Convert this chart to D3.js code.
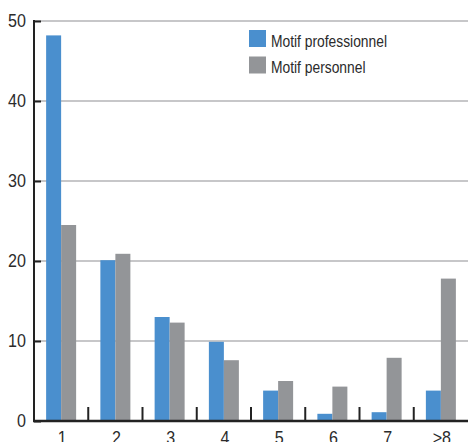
<!DOCTYPE html>
<html>
<head>
<meta charset="utf-8">
<script src="https://cdn.jsdelivr.net/npm/d3@7/dist/d3.min.js"></script>
<style>
  html, body { margin: 0; padding: 0; background: #fff; }
  svg { display: block; }
  text { font-family: "Liberation Sans", Arial, sans-serif; fill: #2b2b2b; }
</style>
</head>
<body>
<svg id="chart" width="468" height="442"></svg>
<script>
// Number of trips per category, share (%) by motive
const categories = ["1", "2", "3", "4", "5", "6", "7", ">8"];
const professionnel = [48.2, 20.1, 13.0, 9.9, 3.8, 0.9, 1.1, 3.8];
const personnel = [24.5, 20.9, 12.3, 7.6, 5.0, 4.3, 7.9, 17.8];
const seriesNames = ["Motif professionnel", "Motif personnel"];
const seriesColors = ["#4a8fce", "#939598"];
const yTicks = [0, 10, 20, 30, 40, 50];

const svg = d3.select("#chart");
const plotLeft = 34, plotRight = 468, plotTop = 21, plotBottom = 421;

const x = d3.scaleBand().domain(categories).range([plotLeft, plotRight]);
const y = d3.scaleLinear().domain([0, 50]).range([plotBottom, plotTop]);
const barW = 15;

// condensed look: squeeze text horizontally around its anchor point
const narrow = (sel, px, py, sx) =>
  sel.attr("transform", (d, i) => `translate(${px(d, i)},${py(d, i)}) scale(${sx},1)`);

// horizontal grid
svg.append("g").selectAll("line").data(yTicks.filter(d => d > 0)).join("line")
  .attr("x1", plotLeft).attr("x2", plotRight)
  .attr("y1", d => y(d)).attr("y2", d => y(d))
  .attr("stroke", "#b5b5b7").attr("stroke-width", 1.5);

// bars
const rows = categories.map((c, i) => ({ c, v: [professionnel[i], personnel[i]] }));
const groups = svg.append("g").selectAll("g").data(rows).join("g");
groups.selectAll("rect").data(d => d.v.map((v, k) => ({ c: d.c, v, k }))).join("rect")
  .attr("x", d => x(d.c) + x.bandwidth() / 2 - barW + d.k * barW)
  .attr("width", barW)
  .attr("y", d => y(d.v))
  .attr("height", d => y(0) - y(d.v))
  .attr("fill", d => seriesColors[d.k]);

// y axis
const yAxis = d3.axisRight(y).tickValues(yTicks).tickSize(7).tickFormat("");
const ya = svg.append("g").attr("transform", `translate(${plotLeft},0)`).call(yAxis);
ya.select(".domain").remove();
ya.selectAll(".tick line").attr("stroke", "#222").attr("stroke-width", 2);
svg.append("line").attr("x1", plotLeft).attr("x2", plotLeft).attr("y1", plotTop - 1).attr("y2", plotBottom)
  .attr("stroke", "#222").attr("stroke-width", 2);
svg.append("g").selectAll("text").data(yTicks).join("text")
  .call(narrow, () => 26, d => y(d) + 6.3, 0.92)
  .attr("text-anchor", "end").attr("font-size", 17.5)
  .text(d => d);

// x axis baseline and separators
svg.append("line").attr("x1", plotLeft - 1).attr("x2", plotRight).attr("y1", plotBottom).attr("y2", plotBottom)
  .attr("stroke", "#222").attr("stroke-width", 2.5);
svg.append("g").selectAll("line").data(categories.slice(1)).join("line")
  .attr("x1", d => x(d)).attr("x2", d => x(d))
  .attr("y1", plotBottom - 14).attr("y2", plotBottom)
  .attr("stroke", "#222").attr("stroke-width", 2);
svg.append("g").selectAll("text").data(categories).join("text")
  .call(narrow, d => x(d) + x.bandwidth() / 2 + 1, () => 443.5, 0.92)
  .attr("text-anchor", "middle").attr("font-size", 17.5)
  .text(d => d);

// legend
const lg = svg.append("g").selectAll("g").data(seriesNames).join("g")
  .attr("transform", (d, i) => `translate(249,${30 + i * 26.5})`);
lg.append("rect").attr("width", 17).attr("height", 17).attr("fill", (d, i) => seriesColors[i]);
lg.append("text").call(narrow, () => 22, () => 16.5, 0.865)
  .attr("font-size", 16).text(d => d);
</script>
</body>
</html>
